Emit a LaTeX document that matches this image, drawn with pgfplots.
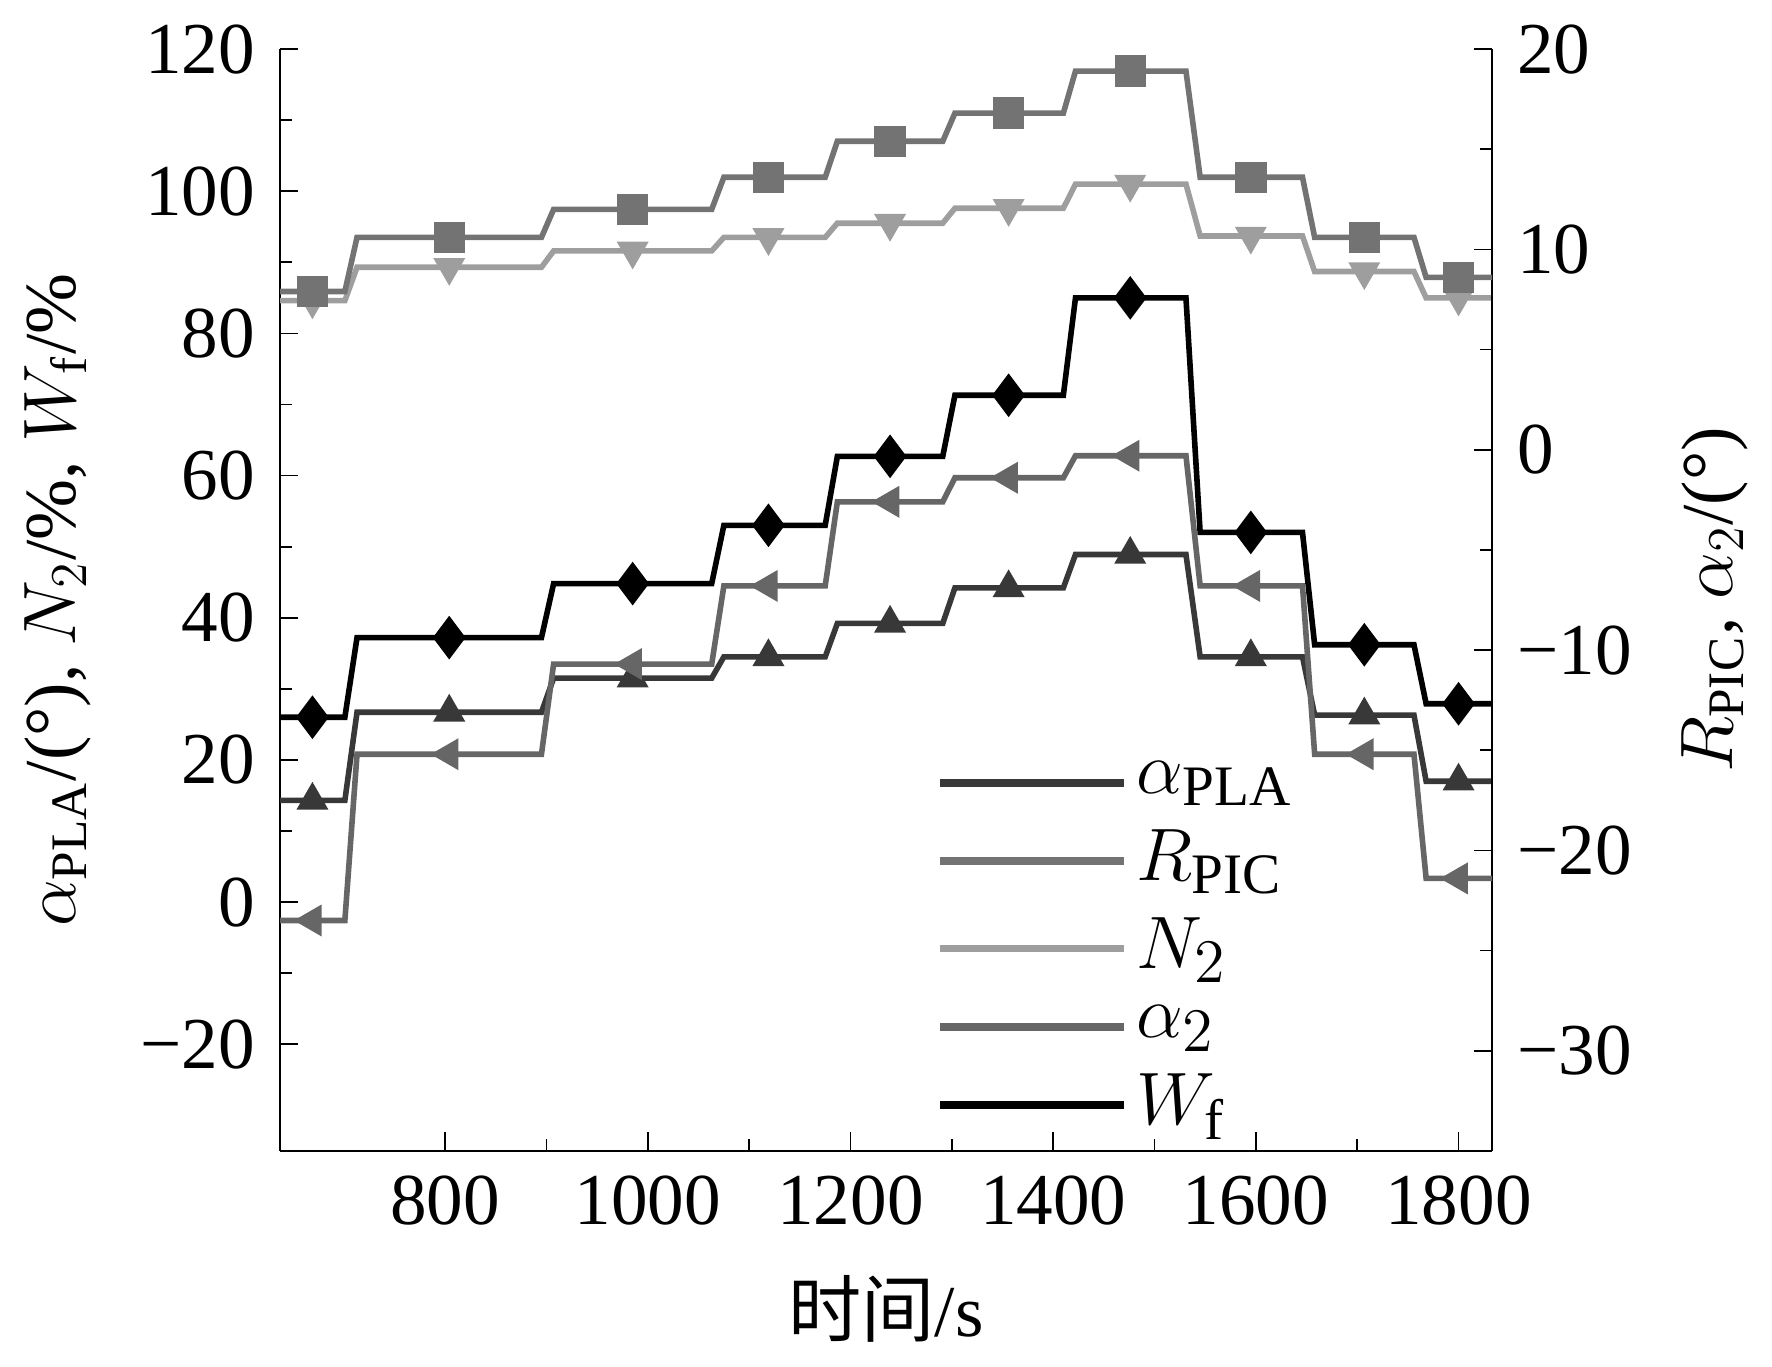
\documentclass[border=0pt]{standalone}
\usepackage{pgfplots}
\pgfplotsset{compat=1.18}
\usepackage{fontspec}
\setmainfont{Liberation Serif}
\newfontfamily\cjk{Noto Sans CJK SC}
\definecolor{cA}{gray}{0.22}
\definecolor{cR}{gray}{0.45}
\definecolor{cN}{gray}{0.62}
\definecolor{cB}{gray}{0.40}
\begin{document}
\fontsize{17}{20}\selectfont
\begin{tikzpicture}
\pgfplotsset{every axis/.style={width=9.9cm,height=9cm,scale only axis,xmin=637,xmax=1833,
 tick style={black,thin},
 every tick label/.style={font=\fontsize{17}{20}\selectfont}}}
\begin{axis}[ymin=-35,ymax=120, axis y line*=left, axis x line*=bottom,
 xtick={800,1000,...,1800}, minor x tick num=1,
 xticklabels={800,1000,1200,1400,1600,1800},
 ytick={-20,0,...,120}, minor y tick num=1,
 yticklabels={−20,0,20,40,60,80,100,120},
 xlabel={{\cjk 时间}/s}, ylabel={$\alpha_{\mathrm{PLA}}$/(°), $N_2$/\%, $W_{\mathrm{f}}$/\%},
 every axis plot/.append style={line width=1.3pt, mark repeat=3, mark phase=2, mark size=3pt}]
% alpha PLA
\addplot[cA, mark=triangle*] coordinates {(637,14.3)(669,14.3)(701,14.3)(713,26.7)(804,26.7)(895,26.7)(907,31.5)(985,31.5)(1063,31.5)(1075,34.5)(1119,34.5)(1175,34.5)(1187,39.2)(1239,39.2)(1291,39.2)(1303,44.2)(1356,44.2)(1410,44.2)(1422,48.9)(1476,48.9)(1531,48.9)(1545,34.5)(1595,34.5)(1646,34.5)(1658,26.3)(1707,26.3)(1756,26.3)(1768,17)(1800,17)(1833,17)};
% N2
\addplot[cN, mark=triangle*, mark options={rotate=180}] coordinates {(637,84.6)(669,84.6)(701,84.6)(713,89.3)(804,89.3)(895,89.3)(907,91.6)(985,91.6)(1063,91.6)(1075,93.5)(1119,93.5)(1175,93.5)(1187,95.5)(1239,95.5)(1291,95.5)(1303,97.6)(1356,97.6)(1410,97.6)(1422,101)(1476,101)(1531,101)(1545,93.7)(1595,93.7)(1646,93.7)(1658,88.7)(1707,88.7)(1756,88.7)(1768,85)(1800,85)(1833,85)};
% Wf
\addplot[black, mark=diamond*, mark size=4pt] coordinates {(637,26)(669,26)(701,26)(713,37.2)(804,37.2)(895,37.2)(907,44.8)(985,44.8)(1063,44.8)(1075,53)(1119,53)(1175,53)(1187,62.7)(1239,62.7)(1291,62.7)(1303,71.3)(1356,71.3)(1410,71.3)(1422,85)(1476,85)(1531,85)(1545,52)(1595,52)(1646,52)(1658,36.2)(1707,36.2)(1756,36.2)(1768,27.9)(1800,27.9)(1833,27.9)};
\end{axis}
\begin{axis}[ymin=-35,ymax=20, axis y line*=right, axis x line=none,
 ytick={-30,-20,...,20}, minor y tick num=1,
 yticklabels={−30,−20,−10,0,10,20},
 ylabel={$R_{\mathrm{PIC}}$, $\alpha_2$/(°)},
 legend style={draw=none,fill=none,at={(0.53,0.37)},anchor=north west,row sep=2pt,font=\fontsize{19}{22}\selectfont},
 legend cell align=left,
 legend image code/.code={\draw[#1,line width=1.8pt] (0cm,0cm) -- (1.5cm,0cm); \draw[#1,only marks] plot coordinates {(0.75cm,0cm)};},
 every axis plot/.append style={line width=1.3pt, mark repeat=3, mark phase=2, mark size=3pt}]
\addlegendimage{cA, mark=triangle*, mark size=3pt}\addlegendentry{$\alpha_{\mathrm{PLA}}$}
\addlegendimage{cR, mark=square*, mark size=3pt}\addlegendentry{$R_{\mathrm{PIC}}$}
\addlegendimage{cN, mark=triangle*, mark size=3pt, mark options={rotate=180}}\addlegendentry{$N_2$}
\addlegendimage{cB, mark=triangle*, mark size=3pt, mark options={rotate=90}}\addlegendentry{$\alpha_2$}
\addlegendimage{black, mark=diamond*, mark size=4pt}\addlegendentry{$W_{\mathrm{f}}$}
% RPIC
\addplot[cR, mark=square*, forget plot] coordinates {(637,7.9)(669,7.9)(701,7.9)(713,10.6)(804,10.6)(895,10.6)(907,12.0)(985,12.0)(1063,12.0)(1075,13.6)(1119,13.6)(1175,13.6)(1187,15.4)(1239,15.4)(1291,15.4)(1303,16.8)(1356,16.8)(1410,16.8)(1422,18.9)(1476,18.9)(1531,18.9)(1545,13.6)(1595,13.6)(1646,13.6)(1658,10.6)(1707,10.6)(1756,10.6)(1768,8.6)(1800,8.6)(1833,8.6)};
% alpha2
\addplot[cB, mark=triangle*, mark options={rotate=90}, forget plot] coordinates {(637,-23.5)(669,-23.5)(701,-23.5)(713,-15.2)(804,-15.2)(895,-15.2)(907,-10.7)(985,-10.7)(1063,-10.7)(1075,-6.8)(1119,-6.8)(1175,-6.8)(1187,-2.6)(1239,-2.6)(1291,-2.6)(1303,-1.4)(1356,-1.4)(1410,-1.4)(1422,-0.3)(1476,-0.3)(1531,-0.3)(1545,-6.8)(1595,-6.8)(1646,-6.8)(1658,-15.2)(1707,-15.2)(1756,-15.2)(1768,-21.4)(1800,-21.4)(1833,-21.4)};
\end{axis}
\end{tikzpicture}
\end{document}
